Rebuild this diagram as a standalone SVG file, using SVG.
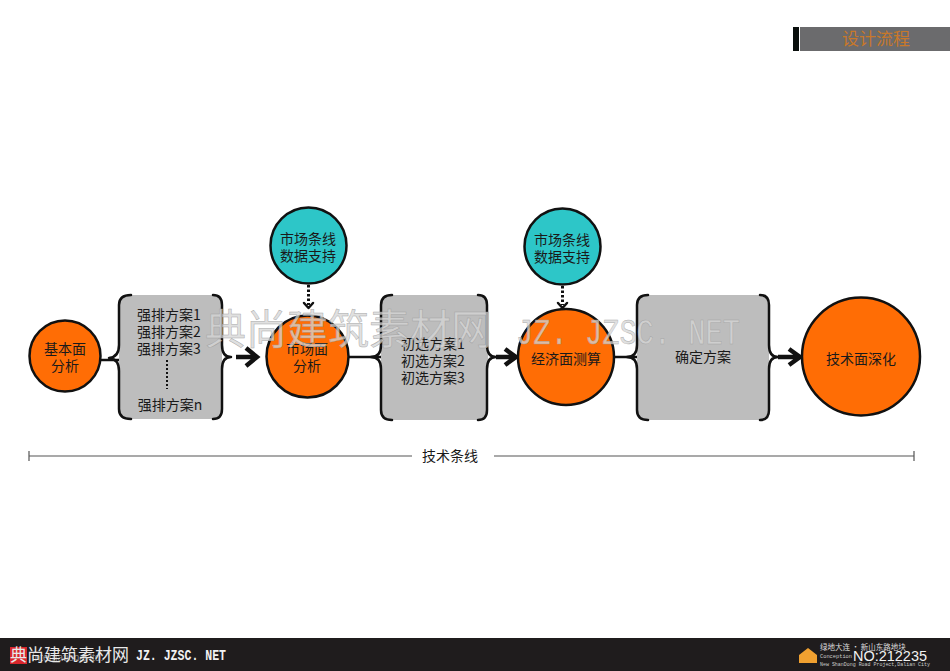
<svg xmlns="http://www.w3.org/2000/svg" width="950" height="671" viewBox="0 0 950 671">
<style>
text{font-family:"Noto Sans CJK SC","Liberation Sans",sans-serif;fill:#1a1a1a;font-size:14px;text-anchor:middle}
.o{fill:#ff6d05;stroke:#111;stroke-width:2.500}
.t{fill:#2dc6c8;stroke:#111;stroke-width:2.500}
.g{fill:#bdbdbd}
.br{fill:none;stroke:#111;stroke-width:2.500;stroke-linecap:round;stroke-linejoin:round}
.ln{fill:none;stroke:#111;stroke-width:2.500}
.ar{fill:none;stroke:#111;stroke-width:4.500}
.dot{fill:none;stroke:#111;stroke-width:3;stroke-dasharray:2.500 2}
.rule{fill:none;stroke:#555;stroke-width:1.200}
.wm{fill:#d6d6d6;fill-opacity:.75;stroke:#9a9a9a;stroke-width:.5;stroke-opacity:.8;font-size:41px;text-anchor:start}
.ft{text-anchor:start}
</style>
<rect width="950" height="671" fill="#fff"/>
<g id="title">
<rect x="793" y="27" width="6" height="24" fill="#0a0f0d"/>
<rect x="800" y="27" width="150" height="24" fill="#6b6b6d"/>
<text x="876" y="45" style="font-size:17px;fill:#c8782a">设计流程</text>
</g>
<g id="connectors">
<path class="ln" d="M101 360H119"/>
<path class="ar" d="M236 357H256M246 348L257 357L246 366"/>
<path class="ln" d="M349 357H381"/>
<path class="ar" d="M496 357H515M505 349L516 357L505 365"/>
<path class="ln" d="M614 357H637"/>
<path class="ar" d="M778 357H799M789 349L800 357L789 365"/>
<path class="dot" d="M308.500 285V305"/>
<path class="br" d="M304 303L308.500 308L313 303"/>
<path class="dot" d="M562.500 286V305"/>
<path class="br" d="M558 303L562.500 308L567 303"/>
</g>
<g id="box1">
<path class="g" d="M130 295H213Q222 295 222 305V410Q222 419 213 419H130Q119 419 119 410V305Q119 295 130 295Z"/>
<path class="br" d="M131 295Q119 295 119 305V345Q119 357 109 358Q119 359 119 371V409Q119 419 131 419"/>
<path class="br" d="M213 295Q222 295 222 305V345Q222 357 231 357Q222 357 222 369V409Q222 419 213 419"/>
<text x="169" y="320">强排方案1</text>
<text x="169" y="337">强排方案2</text>
<text x="169" y="354">强排方案3</text>
<path d="M167 360V389" fill="none" stroke="#111" stroke-width="2" stroke-dasharray="2 2"/>
<text x="170" y="410">强排方案n</text>
</g>
<g id="box2">
<path class="g" d="M392 295H478Q488 295 488 305V410Q488 420 478 420H392Q381 420 381 410V305Q381 295 392 295Z"/>
<path class="br" d="M392 295Q381 295 381 305V345Q381 357 371 357Q381 357 381 369V410Q381 420 392 420"/>
<path class="br" d="M478 295Q487 295 487 305V345Q487 357 496 357Q487 357 487 369V410Q487 420 478 420"/>
<text x="433" y="349">初选方案1</text>
<text x="433" y="366">初选方案2</text>
<text x="433" y="383">初选方案3</text>
</g>
<g id="box3">
<path class="g" d="M648 295H760Q769 295 769 305V410Q769 420 760 420H648Q637 420 637 410V305Q637 295 648 295Z"/>
<path class="br" d="M648 295Q637 295 637 305V345Q637 357 627 357Q637 357 637 369V410Q637 420 648 420"/>
<path class="br" d="M760 295Q769 295 769 305V345Q769 357 778 357Q769 357 769 369V410Q769 420 760 420"/>
<text x="703" y="362">确定方案</text>
</g>
<g id="n1"><circle class="o" cx="65" cy="356" r="35.500"/><text x="65" y="354">基本面</text><text x="65" y="371">分析</text></g>
<g id="n2"><circle class="o" cx="307.500" cy="356.500" r="41"/><text x="307" y="354">市场面</text><text x="307" y="371">分析</text></g>
<g id="n3"><circle class="o" cx="566" cy="357" r="48"/><text x="566" y="364">经济面测算</text></g>
<g id="n4"><circle class="o" cx="861" cy="356.500" r="59"/><text x="861" y="364">技术面深化</text></g>
<g id="s1"><circle class="t" cx="308.500" cy="245.500" r="38"/><text x="308" y="244">市场条线</text><text x="308" y="261">数据支持</text></g>
<g id="s2"><circle class="t" cx="562.500" cy="246.500" r="38"/><text x="562" y="245">市场条线</text><text x="562" y="262">数据支持</text></g>
<g id="rule">
<path class="rule" d="M29 456H412M494 456H914M29 451V461M914 451V461"/>
<text x="450" y="461">技术条线</text>
</g>
<g id="watermark">
<text class="wm" x="205" y="344">典尚建筑素材网</text>
<text class="wm" x="516" y="344" textLength="224" lengthAdjust="spacingAndGlyphs" style="font-family:'Liberation Mono',monospace;font-size:36px">JZ. JZSC. NET</text>
</g>
<g id="footer">
<rect y="638" width="950" height="33" fill="#1f1c1d"/>
<rect x="10" y="647" width="17" height="17" fill="#d8262c"/>
<text class="ft" x="32" y="661" style="font-family:'Liberation Sans',sans-serif;font-size:10px;fill:#8a8a8a">International ltd.</text>
<text class="ft" x="10" y="661" style="font-size:17px;fill:#e8e8e8">典尚建筑素材网</text>
<text class="ft" x="136" y="660" textLength="90" lengthAdjust="spacingAndGlyphs" style="font-family:'Liberation Mono',monospace;font-size:15px;font-weight:bold;fill:#f2f2f2">JZ. JZSC. NET</text>
<path d="M799 663V655L808 648L817 655V663Z" fill="#f0a030"/>
<text class="ft" x="820" y="650" style="font-size:7.500px;fill:#ddd">绿地大连 · 新山东路地块</text>
<text class="ft" x="820" y="658" textLength="32" lengthAdjust="spacingAndGlyphs" style="font-family:'Liberation Mono',monospace;font-size:6px;fill:#ccc">Conception</text>
<text class="ft" x="820" y="666" textLength="110" lengthAdjust="spacingAndGlyphs" style="font-family:'Liberation Mono',monospace;font-size:6px;fill:#ccc">New ShanDong Road Project,Dalian City</text>
<text class="ft" x="853" y="661" textLength="74" lengthAdjust="spacingAndGlyphs" style="font-family:'Liberation Sans',sans-serif;font-size:15px;fill:#f2f2f2">NO:212235</text>
</g>
</svg>
